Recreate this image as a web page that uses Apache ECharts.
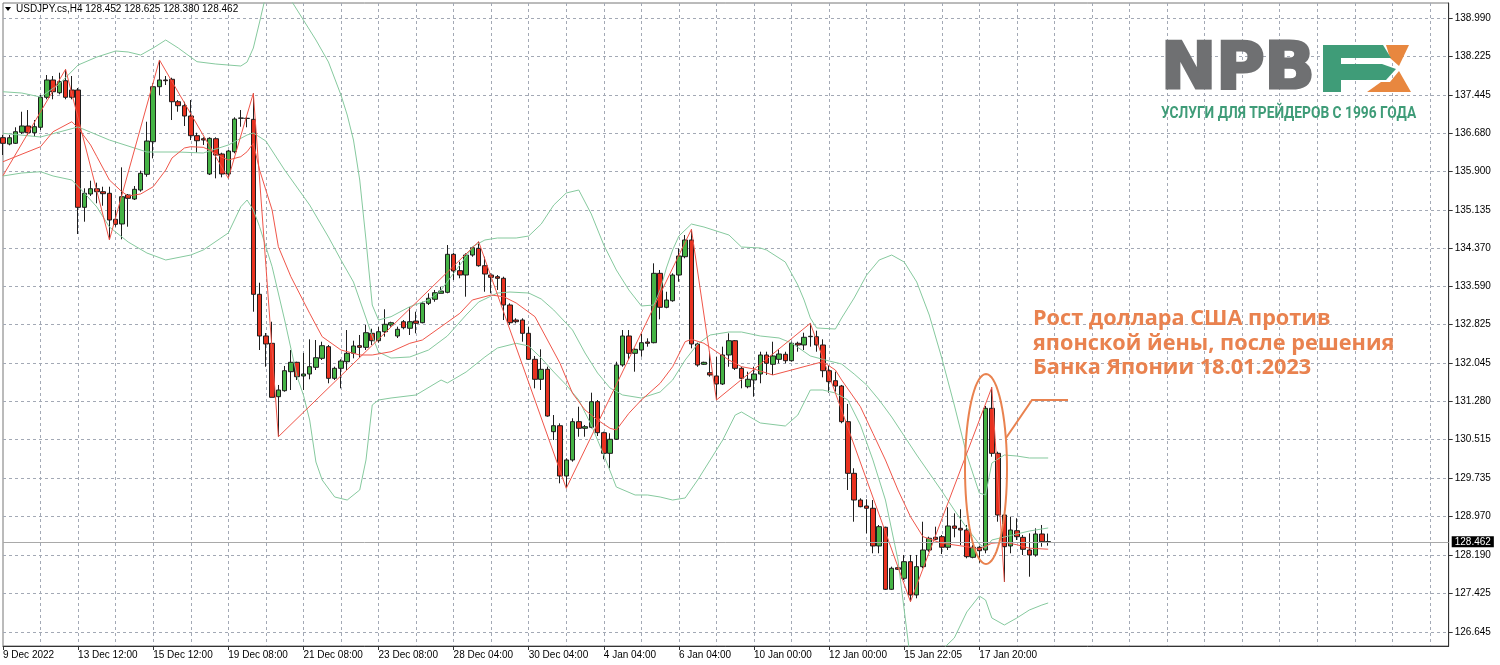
<!DOCTYPE html>
<html><head><meta charset="utf-8">
<script src="https://cdn.jsdelivr.net/npm/echarts@6/dist/echarts.min.js"></script>
<style>html,body{margin:0;padding:0;background:#fff}#c{width:1500px;height:665px}</style>
</head><body><div id="c"></div>
<script>
// ---- data (USDJPY.cs, H4) ----
const xTickLabels = ['9 Dec 2022','13 Dec 12:00','15 Dec 12:00','19 Dec 08:00','21 Dec 08:00','23 Dec 08:00','28 Dec 04:00','30 Dec 04:00','4 Jan 04:00','6 Jan 04:00','10 Jan 00:00','12 Jan 00:00','15 Jan 22:05','17 Jan 20:00'];
const yTicks = [138.990,138.225,137.445,136.680,135.900,135.135,134.370,133.590,132.825,132.045,131.280,130.515,129.735,128.970,128.190,127.425,126.645];
const header = 'USDJPY.cs,H4 128.452 128.625 128.380 128.462';
const lastPrice = 128.462;

const opens = [136.584,136.457,136.471,136.692,136.819,136.684,136.793,137.396,137.744,137.488,137.730,137.543,137.543,135.184,135.452,135.558,135.498,135.466,134.943,134.849,135.432,135.351,135.532,135.848,136.503,137.609,137.744,137.758,137.307,137.227,137.020,136.624,136.563,135.854,136.563,136.256,135.854,136.302,136.974,136.974,136.953,133.435,132.597,132.450,131.376,131.497,131.879,132.068,131.793,131.833,131.967,132.148,132.382,131.746,131.947,132.080,132.249,132.402,132.369,132.651,132.502,132.683,132.818,132.597,132.884,132.752,132.898,132.864,133.254,133.335,133.455,133.475,134.239,133.910,133.823,134.225,134.360,134.010,133.823,133.789,133.757,133.220,132.918,132.918,132.651,132.128,131.726,131.927,130.673,130.793,129.782,130.104,130.874,130.741,130.761,131.276,130.653,130.238,130.520,132.014,132.597,132.249,132.315,132.476,132.462,133.857,133.174,133.306,133.823,134.191,134.527,132.436,132.028,131.859,131.793,131.632,132.215,132.502,131.947,131.577,131.712,131.833,132.215,132.028,132.128,132.229,132.100,132.450,132.416,132.583,132.583,132.416,131.899,131.698,131.591,130.874,129.836,129.299,129.179,129.133,128.375,128.751,127.504,127.938,127.725,128.059,127.390,127.959,128.294,128.549,128.562,128.349,128.777,128.730,128.696,128.147,128.349,128.294,131.143,130.238,128.998,128.375,128.682,128.549,128.294,128.194,128.616,128.452];
const closes = [136.471,136.583,136.704,136.819,136.684,136.805,137.396,137.744,137.508,137.709,137.396,137.396,135.184,135.466,135.558,135.498,135.458,134.929,134.842,135.397,135.365,135.546,135.868,136.517,137.609,137.744,137.730,137.307,137.227,137.020,136.624,136.523,136.537,136.571,136.236,135.854,136.316,136.959,136.980,136.970,133.435,132.597,132.436,131.364,131.511,131.899,132.068,131.778,131.833,131.980,132.160,132.402,131.746,131.947,132.094,132.249,132.396,132.369,132.663,132.502,132.683,132.832,132.864,132.731,132.764,132.884,132.852,133.254,133.355,133.467,133.501,134.239,133.904,133.823,134.225,134.372,134.010,133.843,133.777,133.757,133.220,132.864,132.884,132.651,132.128,131.726,131.927,130.988,130.793,129.782,130.104,130.874,130.741,130.773,131.276,130.653,130.238,130.520,132.014,132.597,132.249,132.329,132.462,132.450,133.857,133.174,133.320,133.823,134.205,134.527,132.436,132.014,132.068,131.813,131.632,132.215,132.502,131.947,131.746,131.726,131.833,132.215,132.048,132.195,132.235,132.100,132.450,132.416,132.571,132.591,132.416,131.899,131.678,131.591,130.874,129.836,129.299,129.165,129.133,128.375,128.763,127.504,127.926,127.906,128.059,127.390,127.959,128.294,128.530,128.509,128.349,128.777,128.730,128.696,128.160,128.349,128.280,131.143,130.238,128.998,128.361,128.696,128.562,128.308,128.194,128.616,128.461,128.462];
const lows = [136.236,136.431,136.457,136.658,136.638,136.604,136.738,137.356,137.356,137.456,137.356,137.356,134.647,134.895,135.411,135.265,135.216,134.527,134.794,134.541,134.794,135.331,135.498,135.799,136.169,137.442,137.643,136.939,137.106,136.819,136.537,136.282,136.437,135.834,135.767,135.787,135.767,136.270,136.805,136.793,133.085,132.315,131.979,131.364,130.572,131.477,131.511,131.712,131.511,131.726,131.913,132.114,131.646,131.712,131.545,131.913,132.148,132.160,132.315,132.416,132.462,132.583,132.784,132.556,132.731,132.617,132.651,132.852,133.220,133.286,133.455,133.455,133.723,133.757,133.387,134.191,133.990,133.487,133.455,133.522,132.918,132.818,132.852,132.482,132.114,131.545,131.511,130.974,130.506,129.635,129.535,130.070,130.572,130.572,130.741,130.586,130.118,129.937,130.506,131.979,132.114,131.879,132.181,132.382,132.450,132.932,133.154,133.286,133.688,134.159,132.349,131.979,132.014,131.779,131.310,131.612,131.979,131.913,131.545,131.545,131.376,131.646,131.813,131.813,132.048,132.048,132.080,132.281,132.315,132.382,132.281,131.766,131.457,131.477,130.842,129.501,128.863,129.153,128.630,128.228,128.228,127.490,127.490,127.892,127.691,127.255,127.323,127.926,128.260,128.495,128.214,128.294,128.549,128.395,128.127,128.127,128.039,128.228,130.170,128.863,127.651,128.228,128.495,128.194,127.757,128.160,128.361,128.380];
const highs = [136.638,136.638,136.793,137.106,137.140,136.939,137.442,137.844,137.824,137.890,137.959,137.824,137.583,135.566,135.719,135.679,135.598,135.598,135.130,135.988,135.452,135.612,135.920,136.905,137.677,138.146,137.824,137.790,137.341,137.307,137.341,136.684,136.592,136.592,136.592,136.282,136.336,136.994,137.140,137.020,137.476,133.668,132.657,132.884,131.612,131.994,132.315,132.080,132.255,132.530,132.516,132.482,132.416,131.980,132.128,132.717,132.502,132.617,132.818,132.743,132.784,133.134,132.884,132.784,132.918,133.174,133.085,133.286,133.455,133.522,133.588,134.426,134.271,134.090,134.259,134.392,134.493,134.191,133.857,133.823,133.789,133.254,132.953,132.953,132.784,132.195,132.329,131.980,131.008,130.841,130.138,130.942,131.175,130.807,131.457,131.310,130.673,130.641,132.080,132.717,132.717,132.349,132.637,132.550,134.058,133.924,133.487,133.857,134.360,134.627,134.742,132.462,132.080,132.281,132.181,132.382,132.651,132.516,131.980,131.879,131.980,132.281,132.281,132.482,132.329,132.281,132.482,132.482,132.663,132.852,132.703,132.530,132.014,131.879,131.612,131.230,129.937,129.334,129.314,129.299,128.797,128.763,127.959,127.959,128.194,128.194,128.194,128.863,128.562,128.763,128.596,129.153,129.032,129.113,128.797,128.395,128.375,131.189,131.565,130.271,129.032,128.964,128.932,128.596,128.630,128.730,128.797,128.625];

// Bollinger bands (green) and red lines, read as [bar index, price]
const bbUpper = [[0,137.508],[3,137.482],[6,137.402],[9,137.663],[12,138.045],[15,138.206],[18,138.327],[20,138.307],[22,138.246],[24,138.387],[26,138.548],[28,138.387],[31,138.112],[34,138.065],[38,138.025],[39,138.105],[40,138.387],[41,138.910],[42,139.45],[43,139.7],[44,139.75],[45,139.5],[46,139.352],[48,138.950],[50,138.548],[52,138.106],[54,137.442],[55,137.040],[56,136.537],[57,135.733],[58,134.527],[59,133.220],[60,132.918],[62,132.985],[65,133.186],[68,133.320],[70,133.522],[72,133.857],[74,134.191],[75,134.392],[77,134.527],[79,134.567],[82,134.567],[84,134.607],[86,134.848],[88,135.230],[90,135.472],[92,135.532],[94,135.050],[96,134.426],[98,133.924],[100,133.522],[102,133.200],[104,133.220],[105,133.522],[106,133.964],[107,134.326],[108,134.607],[110,134.848],[112,134.788],[116,134.627],[118,134.386],[121,134.366],[122,134.326],[125,134.084],[127,133.622],[128,133.320],[129,132.959],[130,132.758],[133,132.737],[134,132.959],[136,133.361],[138,133.823],[140,134.125],[142,134.225],[144,134.084],[146,133.682],[148,133.019],[150,132.154],[152,131.209],[154,130.204],[156,129.440],[157,129.400],[158,130.043],[160,130.204],[162,130.184],[164,130.144],[167,130.144]];
const bbMiddle = [[0,136.672],[6,136.598],[12,136.799],[17,136.537],[23,136.296],[28,136.296],[32,136.276],[36,136.437],[39,136.638],[40,136.678],[42,136.517],[45,135.934],[49,135.230],[52,134.587],[54,134.125],[56,133.682],[57,133.320],[59,132.597],[60,132.275],[62,132.154],[65,132.175],[68,132.315],[71,132.597],[74,133.019],[76,133.280],[79,133.461],[81,133.481],[84,133.461],[86,133.341],[88,133.119],[91,132.717],[93,132.255],[95,131.853],[97,131.551],[99,131.411],[102,131.350],[105,131.471],[107,131.712],[109,132.114],[111,132.436],[113,132.617],[116,132.677],[118,132.677],[121,132.597],[124,132.557],[126,132.456],[129,132.195],[132,132.094],[134,132.034],[136,131.833],[138,131.612],[140,131.310],[142,130.968],[144,130.586],[146,130.204],[148,129.842],[150,129.480],[152,129.098],[154,128.737],[156,128.415],[157,128.334],[158,128.495],[160,128.556],[162,128.616],[164,128.676],[167,128.737]];
const bbLower = [[0,135.814],[3,135.874],[6,135.900],[8,135.814],[11,135.733],[13,135.472],[15,135.190],[17,134.788],[20,134.487],[23,134.265],[26,134.125],[30,134.225],[32,134.326],[36,134.668],[38,135.196],[39,135.331],[40,135.131],[41,134.794],[43,133.990],[45,132.918],[47,131.778],[48,131.411],[49,130.908],[50,130.063],[51,129.702],[53,129.360],[55,129.299],[57,129.501],[58,130.104],[59,131.209],[60,131.310],[62,131.350],[66,131.411],[70,131.712],[71,131.652],[74,131.873],[77,132.175],[79,132.355],[82,132.450],[84,132.396],[86,132.154],[88,131.873],[90,131.612],[92,131.310],[94,130.807],[96,130.204],[98,129.561],[101,129.400],[103,129.400],[105,129.360],[107,129.299],[109,129.340],[111,129.702],[113,130.104],[115,130.506],[117,131.008],[118,131.069],[121,130.848],[125,130.787],[127,131.008],[129,131.511],[131,131.511],[133,131.451],[135,131.310],[137,130.807],[139,130.104],[141,129.299],[143,128.093],[144,127.088],[145,126.083],[147,125.278],[149,125.681],[150,126.283],[152,126.525],[154,127.048],[156,127.369],[157,127.289],[158,126.927],[160,126.786],[162,126.927],[164,127.088],[166,127.188],[167,127.229]];
const maLine = [[0,136.101],[6,136.403],[8,136.704],[11,136.905],[12,136.779],[14,136.437],[15,136.202],[17,135.733],[19,135.498],[20,135.411],[22,135.452],[24,135.598],[26,135.934],[27,136.175],[29,136.377],[30,136.403],[32,136.390],[33,136.336],[35,136.190],[36,136.135],[38,136.202],[39,136.302],[40,136.471],[41,135.934],[43,135.130],[44,134.392],[46,133.789],[49,133.053],[51,132.583],[54,132.315],[57,132.215],[59,132.215],[62,132.281],[65,132.450],[67,132.516],[70,132.784],[73,133.053],[75,133.321],[78,133.421],[80,133.387],[82,133.260],[85,132.985],[87,132.516],[89,132.048],[91,131.445],[93,131.109],[95,130.908],[97,130.741],[98,130.707],[100,131.042],[102,131.310],[105,131.646],[107,131.980],[109,132.482],[110,132.530],[112,132.450],[114,132.281],[116,132.114],[118,131.980],[120,131.933],[123,131.813],[126,131.913],[129,132.014],[131,132.080],[133,131.913],[134,131.712],[137,131.175],[139,130.640],[141,130.104],[143,129.501],[145,128.964],[147,128.562],[150,128.430],[154,128.361],[156,128.308],[158,128.430],[160,128.450],[162,128.400],[164,128.330],[167,128.310]];
const zigzag = [[0,135.82],[10,137.959],[17,134.527],[25,138.146],[36,135.767],[40,137.476],[44,130.572],[76,134.493],[90,129.535],[110,134.742],[114,131.310],[129,132.852],[145,127.255],[158,131.565],[160,127.651]];

const noteLines = ['Рост доллара США против','японской йены, после решения','Банка Японии 18.01.2023'];

// ---- chart ----
const nSlots = 232;
const categories = Array.from({length: nSlots}, (_, i) => String(i));
const candles = opens.map((o, i) => [o, closes[i], lows[i], highs[i]]);

const FONT = 'Liberation Sans, Arial, sans-serif';
const gridColor = '#a3a9b5';
const bbColor = '#86c99e';
const redColor = '#f0564a';
const noteColor = '#e9824f';
const logoGray = '#6f7072';
const logoGreen = '#3f9c78';
const logoOrange = '#e8873f';

const lineSeries = (data, color) => ({
  type: 'line', data, symbol: 'none', smooth: false, z: 3, clip: true,
  lineStyle: {color, width: 1}, silent: true, animation: false
});

// annotation ellipse outline
const ell = [];
for (let k = 0; k < 72; k++) {
  const a = k / 72 * Math.PI * 2;
  ell.push([986 + 21 * Math.cos(a), 469 + 95 * Math.sin(a)]);
}

const chart = echarts.init(document.getElementById('c'), null, {renderer: 'canvas'});
chart.setOption({
  animation: false,
  backgroundColor: '#ffffff',
  grid: {left: 2.2, right: 51.3, top: 3, bottom: 19, show: true, borderColor: '#777', borderWidth: 1, containLabel: false},
  xAxis: {
    type: 'category', data: categories, boundaryGap: false,
    axisLine: {show: true, lineStyle: {color: '#333', width: 1}},
    axisTick: {show: true, interval: (i) => i % 12 === 0 && i <= 156, length: 4, lineStyle: {color: '#333'}},
    axisLabel: {interval: 11, formatter: (v, i) => xTickLabels[i / 12] || '', align: 'left', margin: 4,
      fontSize: 10, fontFamily: FONT, color: '#000'},
    splitLine: {show: true, interval: (i) => i % 6 === 0 && i > 0, lineStyle: {color: gridColor, type: [3, 3], width: 1}}
  },
  yAxis: {
    type: 'value', position: 'right', min: 126.364, max: 139.292, scale: true,
    axisLine: {show: true, lineStyle: {color: '#333', width: 1}},
    axisTick: {show: true, customValues: yTicks, length: 4, lineStyle: {color: '#333'}},
    axisLabel: {customValues: yTicks, formatter: (v) => v.toFixed(3), fontSize: 10, fontFamily: FONT, color: '#000', margin: 6},
    splitLine: {show: true, lineStyle: {color: gridColor, type: [3, 3], width: 1}}
  },
  series: [
    {
      type: 'candlestick', data: candles, barWidth: 5, z: 2,
      itemStyle: {color: '#45b345', color0: '#e8311f', borderColor: '#1e1e1e', borderColor0: '#1e1e1e', borderWidth: 1},
      markLine: {
        symbol: 'none', silent: true, animation: false,
        data: [{yAxis: lastPrice}],
        lineStyle: {color: '#a9a9a9', type: 'solid', width: 1},
        label: {position: 'end', formatter: lastPrice.toFixed(3), backgroundColor: '#000', color: '#fff',
          padding: [1, 3, 0, 3], fontSize: 10, fontFamily: FONT, distance: 3}
      }
    },
    lineSeries(bbUpper, bbColor),
    lineSeries(bbMiddle, bbColor),
    lineSeries(bbLower, bbColor),
    lineSeries(maLine, redColor),
    lineSeries(zigzag, redColor)
  ],
  graphic: [
    {type: 'polygon', shape: {points: [[5, 7], [11, 7], [8, 11]]}, style: {fill: '#000'}, z: 50},
    {type: 'text', x: 16, y: 9.5, style: {text: header, font: '10px ' + FONT, fill: '#000', verticalAlign: 'middle'}, z: 50},
    // logo
    {type: 'text', x: 1161, y: 71, scaleX: 1.03, originX: 0, originY: 0,
      style: {text: 'NPB', font: 'bold 64px "DejaVu Sans"', fill: logoGray, stroke: logoGray, lineWidth: 3, verticalAlign: 'middle'}, z: 50},
    // orange X (right part) behind the green F
    {type: 'polygon', shape: {points: [[1386, 45], [1409, 45], [1399, 66], [1390, 58]]}, style: {fill: logoOrange}, z: 50},
    {type: 'polygon', shape: {points: [[1399, 71], [1411, 92], [1367, 92], [1381, 82], [1390, 82]]}, style: {fill: logoOrange}, z: 50},
    {type: 'rect', shape: {x: 1323, y: 45, width: 18, height: 47}, style: {fill: logoGreen}, z: 51},
    {type: 'polygon', shape: {points: [[1341, 45], [1383, 45], [1391, 58], [1341, 58]]}, style: {fill: logoGreen}, z: 51},
    {type: 'polygon', shape: {points: [[1341, 64], [1382, 64], [1396, 69], [1386, 80], [1341, 80]]}, style: {fill: logoGreen}, z: 51},
    {type: 'text', x: 1161, y: 113.5, scaleX: 0.86, originX: 0, originY: 0,
      style: {text: 'УСЛУГИ ДЛЯ ТРЕЙДЕРОВ С 1996 ГОДА', font: 'bold 16px Roboto', fill: logoGreen, verticalAlign: 'middle'}, z: 50},
    // annotation
    {type: 'polygon', shape: {points: ell}, style: {fill: 'none', stroke: noteColor, lineWidth: 2}, z: 60},
    {type: 'polyline', shape: {points: [[1006, 438], [1032, 400], [1068, 400]]}, style: {stroke: noteColor, lineWidth: 2, fill: 'none'}, z: 60},
    {type: 'text', x: 1033, y: 318.6, style: {text: noteLines[0], font: 'bold 21.7px "Open Sans"', fill: noteColor, verticalAlign: 'middle'}, z: 60},
    {type: 'text', x: 1033, y: 343.6, style: {text: noteLines[1], font: 'bold 21.7px "Open Sans"', fill: noteColor, verticalAlign: 'middle'}, z: 60},
    {type: 'text', x: 1033, y: 367.5, style: {text: noteLines[2], font: 'bold 21.7px "Open Sans"', fill: noteColor, verticalAlign: 'middle'}, z: 60}
  ]
});
</script></body></html>
